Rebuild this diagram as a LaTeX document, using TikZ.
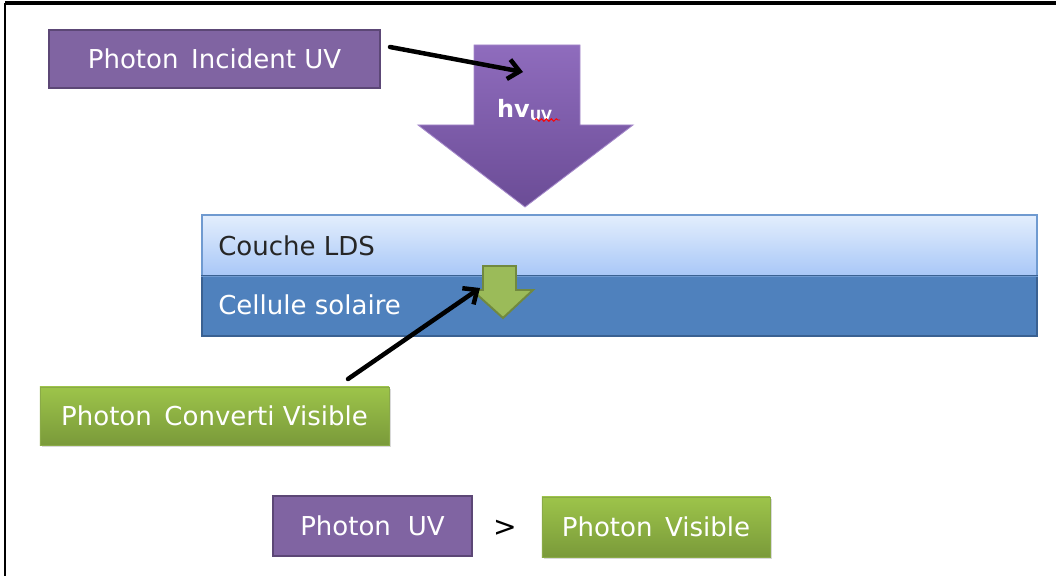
\documentclass[tikz,border=0pt]{standalone}
\usepackage{fontspec}
\setmainfont{DejaVu Sans}
\usetikzlibrary{arrows.meta,shadows,decorations.pathmorphing}
\definecolor{purpfill}{HTML}{8064A2}
\definecolor{purpline}{HTML}{5C4776}
\definecolor{purptop}{HTML}{8F6CBD}
\definecolor{purpbot}{HTML}{6B4C96}
\definecolor{grtop}{HTML}{9DC44A}
\definecolor{grbot}{HTML}{7A9A3A}
\definecolor{grline}{HTML}{8AAA48}
\definecolor{grarrow}{HTML}{9BBB59}
\definecolor{grarrowline}{HTML}{71893F}
\definecolor{ldstop}{HTML}{E3EEFD}
\definecolor{ldsbot}{HTML}{A8C7F7}
\definecolor{ldsline}{HTML}{6F9AD0}
\definecolor{cellfill}{HTML}{4F81BD}
\definecolor{cellline}{HTML}{3A6192}
\tikzset{
  x=0.025cm, y=-0.025cm,
  lbl/.style={font=\fontsize{18.5}{22}\selectfont, inner sep=0pt},
  purplebox/.style={lbl, rectangle, fill=purpfill, draw=purpline, line width=1.4pt,
    text=white, drop shadow={opacity=0.25, shadow xshift=1pt, shadow yshift=-1pt}},
  greenbox/.style={lbl, rectangle, top color=grtop, bottom color=grbot, draw=grline, line width=0.6pt,
    text=white, drop shadow={opacity=0.3, shadow xshift=1.5pt, shadow yshift=-1.5pt}},
  pointer/.style={line width=3.2pt, black, line cap=round,
    -{Straight Barb[length=8pt, width=14pt, line width=3.2pt]}},
}
\begin{document}
\begin{tikzpicture}
\useasboundingbox (0,0) rectangle (1056,576);
% frame lines
\draw[line width=2.4pt] (5,3) -- (1056,3);
\draw[line width=2pt] (5,3) -- (5,576);

% layered cell
\node[lbl, rectangle, minimum width=20.875cm, minimum height=1.525cm,
  top color=ldstop, bottom color=ldsbot, draw=ldsline, line width=1pt] (lds) at (619.5,245.5) {};
\node[lbl, rectangle, minimum width=20.875cm, minimum height=1.5cm,
  fill=cellfill, draw=cellline, line width=1.6pt] (cell) at (619.5,306) {};
\draw[ldsline, line width=1pt] (lds.south west) -- (lds.south east);
\node[lbl, anchor=west, text=black!85] (ldstxt) at (218,246) {Couche LDS};
\node[lbl, anchor=west, text=white] (celltxt) at (218,305) {Cellule solaire};

% incident UV arrow
\shade[top color=purptop, bottom color=purpbot, draw=purptop!80!white, line width=0.6pt]
  (474,45) -- (580,45) -- (580,125) -- (633,125) -- (525,207) -- (418,125) -- (474,125) -- cycle;
\coordinate (uvhit) at (523,72);
\node[lbl, text=white, font=\bfseries\fontsize{17}{20}\selectfont] (hv) at (525,110)
  {hv\textsubscript{\fontsize{10}{11}\selectfont UV}};
\draw[red, line width=0.7pt, decorate, decoration={snake, amplitude=0.9pt, segment length=3.5pt}]
  (535,120) -- (560,120);

% converted visible arrow
\draw[fill=grarrow, draw=grarrowline, line width=1.4pt]
  (483,266) -- (516,266) -- (516,290) -- (533,290) -- (503,318) -- (472,290) -- (483,290) -- cycle;
\coordinate (vishit) at (480,288);

% labels
\node[purplebox, minimum width=8.275cm, minimum height=1.45cm] (inc) at (214.5,59) {Photon\, Incident UV};
\node[greenbox, minimum width=8.725cm, minimum height=1.45cm] (conv) at (214.5,416) {Photon\, Converti Visible};
\node[purplebox, minimum width=4.975cm, minimum height=1.5cm] (puv) at (372.5,526) {Photon\,\, UV};
\node[greenbox, minimum width=5.7cm, minimum height=1.5cm] (pvis) at (656,527) {Photon\, Visible};
\node[lbl, font=\fontsize{20}{22}\selectfont] (gt) at (505,528) {>};

% pointers
\coordinate (incout) at (390,47);
\coordinate (convout) at (348,379);
\draw[pointer] (incout) -- (uvhit);
\draw[pointer] (convout) -- (vishit);
\end{tikzpicture}
\end{document}
